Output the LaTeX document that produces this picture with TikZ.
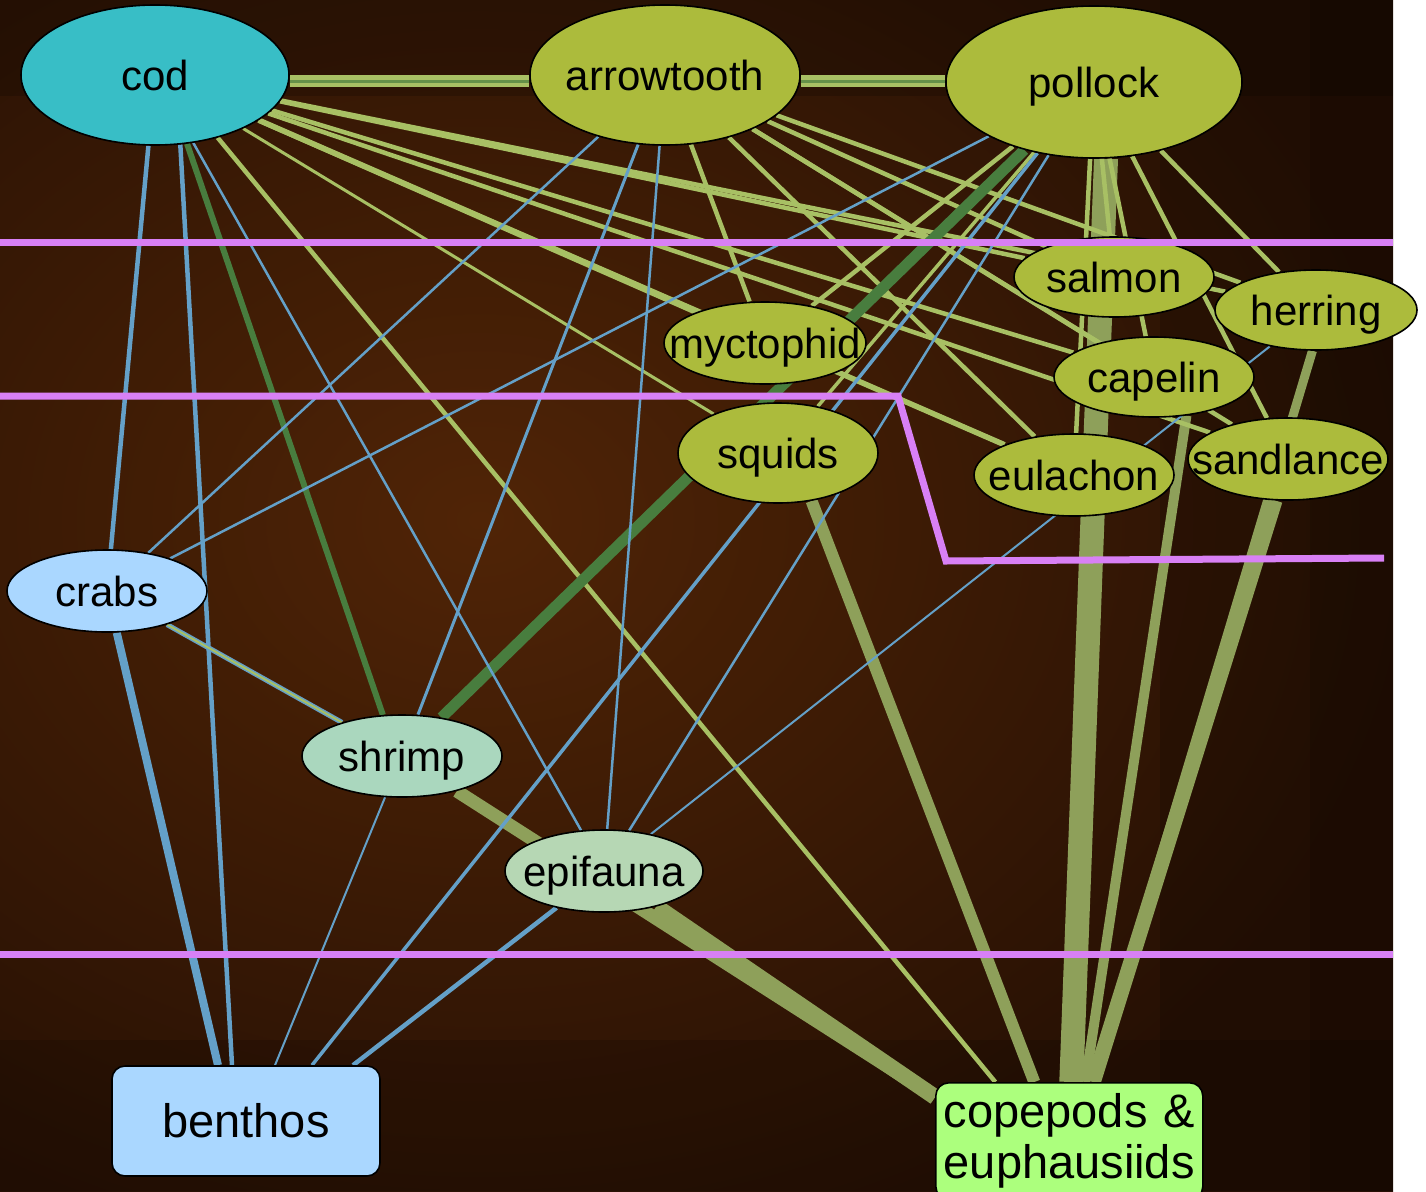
\documentclass[tikz,border=0pt]{standalone}
\usepackage{fontspec}
\setmainfont{Liberation Sans}
\usetikzlibrary{shapes.geometric}

\definecolor{bgdark}{RGB}{38,16,4}
\definecolor{bglight}{RGB}{80,36,6}
\definecolor{codc}{RGB}{56,190,198}
\definecolor{fishc}{RGB}{172,187,60}
\definecolor{crabc}{RGB}{170,215,255}
\definecolor{shrimpc}{RGB}{170,215,190}
\definecolor{epic}{RGB}{182,215,180}
\definecolor{copec}{RGB}{172,255,125}
\definecolor{lgreen}{RGB}{168,192,100}
\definecolor{olivec}{RGB}{142,160,90}
\definecolor{dgreen}{RGB}{72,125,62}
\definecolor{bluel}{RGB}{100,160,200}
\definecolor{pinkl}{RGB}{216,128,245}

\pgfdeclarelayer{bglayer}
\pgfdeclarelayer{edgelayer}
\pgfdeclarelayer{toplayer}
\pgfsetlayers{bglayer,edgelayer,main,toplayer}

\tikzset{
  fish/.style={ellipse, draw=black, line width=1.6pt, inner sep=0pt, fill=fishc},
  ftext/.style={font=\fontsize{42}{46}\selectfont, text depth=0pt, inner sep=0pt},
  boxnode/.style={draw=black, line width=1.6pt, rounded corners=13pt},
  feed/.style={lgreen, line width=4.5pt},
  bfeed/.style={bluel, line width=2.5pt},
  pfeed/.style={olivec},
  zone/.style={pinkl, line width=7pt},
}

\begin{document}
\begin{tikzpicture}[x=1pt,y=-1pt]
\useasboundingbox (0,0) rectangle (1426,1191);

% ---------- species ----------
\node[fish, fill=codc, minimum width=268pt, minimum height=140pt, label={[ftext]center:cod}] (cod) at (155,75) {};
\node[fish, minimum width=270pt, minimum height=140pt, label={[ftext]center:arrowtooth}] (arrow) at (665,75) {};
\node[fish, minimum width=296pt, minimum height=152pt, label={[ftext]center:pollock}] (pollock) at (1094,82) {};
\node[fish, minimum width=200pt, minimum height=80pt, label={[ftext]center:salmon}] (salmon) at (1114,277) {};
\node[fish, minimum width=202pt, minimum height=80pt, label={[ftext]center:herring}] (herring) at (1316,310) {};
\node[fish, minimum width=200pt, minimum height=80pt, label={[ftext]center:capelin}] (capelin) at (1154,377) {};
\node[fish, minimum width=202pt, minimum height=82pt, label={[ftext]center:myctophid}] (myct) at (765,343) {};
\node[fish, minimum width=200pt, minimum height=100pt, label={[ftext]center:squids}] (squids) at (778,453) {};
\node[fish, minimum width=200pt, minimum height=82pt, label={[ftext]center:eulachon}] (eulachon) at (1074,475) {};
\node[fish, minimum width=200pt, minimum height=82pt, label={[ftext]center:sandlance}] (sandlance) at (1288,459) {};
\node[fish, fill=crabc, minimum width=200pt, minimum height=82pt, label={[ftext]center:crabs}] (crabs) at (107,591) {};
\node[fish, fill=shrimpc, minimum width=200pt, minimum height=82pt, label={[ftext]center:shrimp}] (shrimp) at (402,756) {};
\node[fish, fill=epic, minimum width=198pt, minimum height=82pt, label={[ftext]center:epifauna}] (epifauna) at (604,871) {};
\node[boxnode, fill=crabc, minimum width=268pt, minimum height=110pt, inner sep=0pt,
      font=\fontsize{47}{52}\selectfont] (benthos) at (246,1121) {benthos};
\node[boxnode, fill=copec, anchor=north west, text width=251pt, inner xsep=8pt, inner ysep=11pt,
      align=left, font=\fontsize{47}{51}\selectfont] (copepods) at (935,1082) {copepods \&\\euphausiids};

% ---------- background ----------
\begin{pgfonlayer}{bglayer}
  \fill[white] (0,0) rectangle (1426,1191);
  \begin{scope}
    \clip (0,0) rectangle (1393,1191);
    \fill[bgdark] (0,0) rectangle (1393,1191);
    \shade[inner color=bglight, outer color=bgdark] (-470,-230) rectangle (1430,1270);
    \fill[black, opacity=0.18] (0,0) rectangle (1393,96);
    \fill[black, opacity=0.15] (0,1040) rectangle (1393,1191);
    \fill[black, opacity=0.15] (1160,0) rectangle (1393,1191);
    \fill[black, opacity=0.12] (1310,0) rectangle (1393,1191);
  \end{scope}
\end{pgfonlayer}

% ---------- feeding links ----------
\begin{pgfonlayer}{edgelayer}
  % plankton eaters
  \draw[pfeed, line width=24pt] ([xshift=12pt]pollock.south) -- ([xshift=2pt]copepods.north);
  \draw[pfeed, line width=15pt] (sandlance) -- ([xshift=24pt]copepods.north);
  \draw[pfeed, line width=9pt] (herring.265) -- ([xshift=24pt]copepods.north);
  \draw[pfeed, line width=10pt] (capelin.310) -- ([xshift=16pt]copepods.north);
  \draw[pfeed, line width=12pt] (squids.305) -- ([xshift=-35pt]copepods.north);
  \draw[pfeed, line width=16pt] (epifauna) -- ([yshift=-15pt]copepods.north west);
  \draw[pfeed, line width=13pt] (shrimp) -- ([yshift=-15pt]copepods.north west);

  % predators on the fish layer
  \draw[lgreen, line width=12pt] ([yshift=-6pt]cod.east) -- ([yshift=-6pt]arrow.west);
  \draw[lgreen, line width=12pt] ([yshift=-6pt]arrow.east) -- ([yshift=1pt]pollock.west);
  \draw[dgreen!70!lgreen, line width=3pt] ([yshift=-6pt]cod.east) -- ([yshift=-6pt]arrow.west);
  \draw[dgreen!70!lgreen, line width=3pt] ([yshift=-6pt]arrow.east) -- ([yshift=1pt]pollock.west);

  \foreach \p in {cod,arrow,pollock}{
    \foreach \q in {salmon,herring,capelin,sandlance,eulachon,myct}{
      \draw[feed] (\p) -- (\q);
    }
  }
  \draw[feed, line width=3pt] (cod) -- (squids);
  \draw[feed, line width=3.5pt] (pollock) -- (squids);
  \draw[feed, line width=5.5pt] (cod) -- (eulachon);
  \draw[feed] (cod.315) -- ([xshift=-74pt]copepods.north);

  % strong links
  \draw[dgreen, line width=11pt] (pollock) -- (shrimp);
  \draw[dgreen, line width=6pt] (cod.295) -- (shrimp.115);

  % benthic links
  \draw[bfeed, line width=4.5pt] (cod) -- (crabs);
  \draw[bfeed, line width=4.5pt] (cod.290) -- ([xshift=-14pt]benthos.north);
  \draw[bfeed, line width=8pt] (crabs) -- ([xshift=-28pt]benthos.north);
  \draw[bfeed, line width=2pt] (shrimp) -- ([xshift=29pt]benthos.north);
  \draw[bfeed, line width=3.5pt] (pollock) -- ([xshift=66pt]benthos.north);
  \draw[bfeed, line width=4.5pt] (epifauna) -- ([xshift=107pt]benthos.north);
  \draw[bfeed] (arrow) -- (crabs);
  \draw[bfeed] (pollock) -- (crabs);
  \draw[bfeed, line width=3pt] (arrow) -- (shrimp);
  \draw[bfeed] (arrow) -- (epifauna);
  \draw[bfeed] (cod) -- (epifauna);
  \draw[bfeed] (pollock) -- (epifauna);
  \draw[bfeed, line width=2pt] (herring) -- (epifauna);
  \draw[bfeed, line width=5pt] (crabs) -- (shrimp);
  \draw[lgreen, line width=2pt] (crabs) -- (shrimp);
\end{pgfonlayer}

% ---------- depth zones ----------
\begin{pgfonlayer}{toplayer}
  \draw[zone] (0,242) coordinate (z1w) -- (1393,242) coordinate (z1e);
  \draw[zone, line join=miter] (0,396) coordinate (z2w) -- (898,396) -- (946,561) -- (1384,558) coordinate (z2e);
  \draw[zone] (0,954) coordinate (z3w) -- (1393,954) coordinate (z3e);
\end{pgfonlayer}
\end{tikzpicture}
\end{document}
